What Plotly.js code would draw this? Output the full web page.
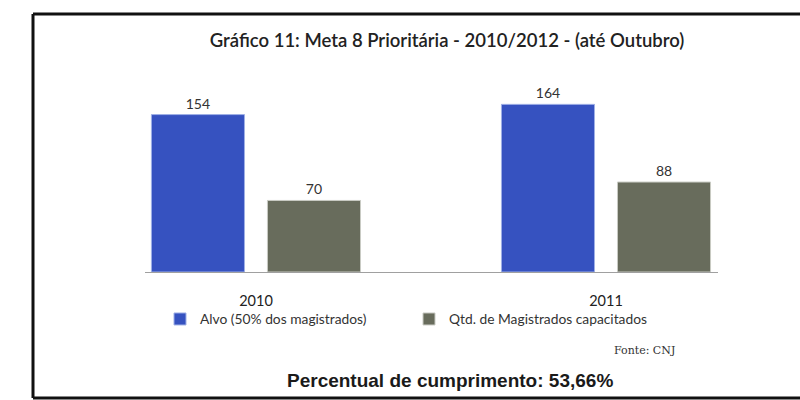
<!DOCTYPE html>
<html>
<head>
<meta charset="utf-8">
<script src="https://cdn.plot.ly/plotly-3.0.1.min.js"></script>
<style>html,body{margin:0;padding:0;background:#fff;overflow:hidden;}#chart{width:800px;height:400px;}</style>
</head>
<body>
<div id="chart"></div>
<script>
var categories = ['2010', '2011'];
var seriesNames = ['Alvo (50% dos magistrados)', 'Qtd. de Magistrados capacitados'];
var alvoValues = [154, 164];
var capacitadosValues = [70, 88];
var titleText = 'Gráfico 11: Meta 8 Prioritária - 2010/2012 - (até Outubro)';
var footnoteText = 'Percentual de cumprimento: 53,66%';
var sourceText = 'Fonte: CNJ';

var labelFont = {family: 'Lato, sans-serif', size: 14, color: '#333'};

var traces = [
  {
    type: 'bar', name: seriesNames[0], x: categories, y: alvoValues,
    text: alvoValues.map(String), textposition: 'outside', textfont: labelFont,
    cliponaxis: false,
    marker: {color: '#3652c0', line: {color: '#9fb0e6', width: 1}}
  },
  {
    type: 'bar', name: seriesNames[1], x: categories, y: capacitadosValues,
    text: capacitadosValues.map(String), textposition: 'outside', textfont: labelFont,
    cliponaxis: false,
    marker: {color: '#686c5c', line: {color: '#c9cbc4', width: 1}}
  }
];

// plot area: x 145..718, y 88..272
var L = 145, R = 718, T = 88, B = 272;
function px(p) { return (p - L) / (R - L); }
function py(p) { return (B - p) / (B - T); }

var frameLine = {color: '#111', width: 3};

var layout = {
  width: 800, height: 400,
  margin: {l: L, r: 800 - R, t: T, b: 400 - B, pad: 0},
  paper_bgcolor: '#ffffff', plot_bgcolor: '#ffffff',
  title: {
    text: titleText,
    font: {family: 'Lato, sans-serif', size: 18.5, color: '#222', weight: 600},
    x: 447 / 800, xanchor: 'center', xref: 'container',
    y: 1 - 41 / 400, yanchor: 'middle', yref: 'container'
  },
  barmode: 'group', bargap: 0.337, bargroupgap: 0.198,
  xaxis: {
    type: 'category', range: [-0.317, 1.32],
    showline: true, linecolor: '#a0a0a0', linewidth: 1,
    ticks: '', showgrid: false, zeroline: false,
    ticklabelstandoff: 16,
    tickfont: {family: 'Lato, sans-serif', size: 14.5, color: '#222'}
  },
  yaxis: {
    range: [0, 180], visible: false, showgrid: false, zeroline: false
  },
  showlegend: true,
  legend: {
    orientation: 'h', x: px(160), xanchor: 'left', y: py(319), yanchor: 'middle',
    entrywidthmode: 'pixels', entrywidth: 204,
    font: {family: 'Lato, sans-serif', size: 13.8, color: '#333'},
    bgcolor: 'rgba(0,0,0,0)', borderwidth: 0, itemclick: false
  },
  annotations: [
    {
      text: sourceText, xref: 'paper', yref: 'paper', x: px(677), y: py(350),
      xanchor: 'right', yanchor: 'middle', showarrow: false,
      font: {family: '"DejaVu Serif", serif', size: 11, color: '#333'}
    },
    {
      text: '<b>' + footnoteText + '</b>', xref: 'paper', yref: 'paper', x: px(450), y: py(380),
      xanchor: 'center', yanchor: 'middle', showarrow: false,
      font: {family: '"Liberation Sans", Arial, sans-serif', size: 19, color: '#1a1a1a'}
    }
  ],
  shapes: [
    {type: 'line', xref: 'paper', yref: 'paper', x0: px(33), x1: px(800), y0: py(14), y1: py(14), line: frameLine},
    {type: 'line', xref: 'paper', yref: 'paper', x0: px(33), x1: px(33), y0: py(14), y1: py(398), line: frameLine},
    {type: 'line', xref: 'paper', yref: 'paper', x0: px(33), x1: px(800), y0: py(398), y1: py(398), line: frameLine}
  ]
};

Plotly.newPlot('chart', traces, layout, {displayModeBar: false, staticPlot: true});
</script>
</body>
</html>
